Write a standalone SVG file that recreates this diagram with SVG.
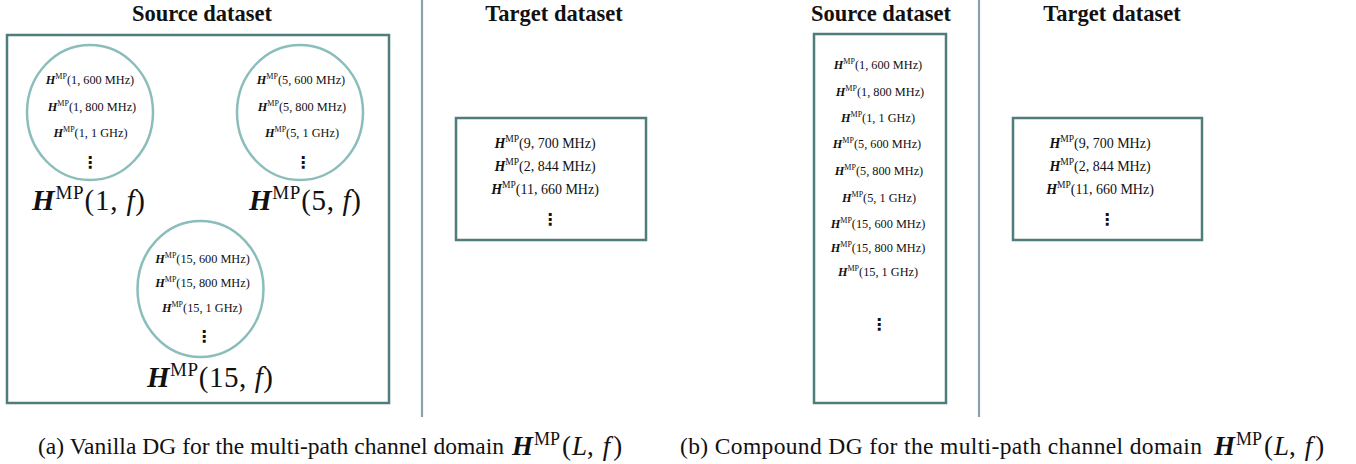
<svg xmlns="http://www.w3.org/2000/svg" width="1356" height="464" viewBox="0 0 1356 464">
<style>
.t{font-family:"Liberation Serif","Times New Roman",serif;fill:#111}
.hb{font-weight:bold;font-style:italic}
.it{font-style:italic}
.title{font-weight:bold;font-size:22.5px;text-anchor:middle}
.s{font-size:12.3px;text-anchor:middle}
.s .sp{font-size:8px}
.m{font-size:14px;text-anchor:middle}
.m .sp{font-size:9.5px}
.L{font-size:29px;text-anchor:middle}
.L .sp{font-size:19px}
.cap{font-size:23.5px}
.capm{font-size:27px}
.capm .sp{font-size:18px}
.dots{font-family:"DejaVu Sans",sans-serif;font-size:16px;font-weight:bold;text-anchor:middle;fill:#111}
.box{fill:#fff;stroke:#4e7d7b;stroke-width:2.5}
.circ{fill:#fff;stroke:#8bbdbb;stroke-width:2.5}
.div{stroke:#8aa0ad;stroke-width:2.2}
</style>
<rect width="1356" height="464" fill="#fff"/>
<g id="dividers">
<line class="div" x1="422" y1="0" x2="422" y2="417"/>
<line class="div" x1="979" y1="0" x2="979" y2="417"/>
</g>
<g id="titles">
<text class="t title" x="202" y="21">Source dataset</text>
<text class="t title" x="554" y="21">Target dataset</text>
<text class="t title" x="881" y="21">Source dataset</text>
<text class="t title" x="1112" y="21">Target dataset</text>
</g>
<g id="source-a">
<rect class="box" x="7" y="35" width="382" height="368"/>
</g>
<g id="set-L1">
<ellipse class="circ" cx="90" cy="112.5" rx="63" ry="67.5"/>
<text class="t s" x="90" y="84"><tspan class="hb">H</tspan><tspan class="sp" dy="-5">MP</tspan><tspan dy="5">(1, 600 MHz)</tspan></text>
<text class="t s" x="92" y="111"><tspan class="hb">H</tspan><tspan class="sp" dy="-5">MP</tspan><tspan dy="5">(1, 800 MHz)</tspan></text>
<text class="t s" x="90.5" y="137"><tspan class="hb">H</tspan><tspan class="sp" dy="-5">MP</tspan><tspan dy="5">(1, 1 GHz)</tspan></text>
<text class="dots" x="90" y="168">⋮</text>
<text class="t L" x="88.5" y="210" textLength="113" lengthAdjust="spacing"><tspan class="hb">H</tspan><tspan class="sp" dy="-11">MP</tspan><tspan dy="11">(1, </tspan><tspan class="it">f</tspan>)</text>
</g>
<g id="set-L5">
<ellipse class="circ" cx="300" cy="112.5" rx="63" ry="67.5"/>
<text class="t s" x="301" y="84"><tspan class="hb">H</tspan><tspan class="sp" dy="-5">MP</tspan><tspan dy="5">(5, 600 MHz)</tspan></text>
<text class="t s" x="302" y="111"><tspan class="hb">H</tspan><tspan class="sp" dy="-5">MP</tspan><tspan dy="5">(5, 800 MHz)</tspan></text>
<text class="t s" x="302" y="137"><tspan class="hb">H</tspan><tspan class="sp" dy="-5">MP</tspan><tspan dy="5">(5, 1 GHz)</tspan></text>
<text class="dots" x="303" y="168">⋮</text>
<text class="t L" x="305" y="210" textLength="112" lengthAdjust="spacing"><tspan class="hb">H</tspan><tspan class="sp" dy="-11">MP</tspan><tspan dy="11">(5, </tspan><tspan class="it">f</tspan>)</text>
</g>
<g id="set-L15">
<ellipse class="circ" cx="200.5" cy="289" rx="63" ry="68"/>
<text class="t s" x="202.5" y="263"><tspan class="hb">H</tspan><tspan class="sp" dy="-5">MP</tspan><tspan dy="5">(15, 600 MHz)</tspan></text>
<text class="t s" x="202.5" y="287"><tspan class="hb">H</tspan><tspan class="sp" dy="-5">MP</tspan><tspan dy="5">(15, 800 MHz)</tspan></text>
<text class="t s" x="202" y="312"><tspan class="hb">H</tspan><tspan class="sp" dy="-5">MP</tspan><tspan dy="5">(15, 1 GHz)</tspan></text>
<text class="dots" x="204" y="342">⋮</text>
<text class="t L" x="210" y="387" textLength="126" lengthAdjust="spacing"><tspan class="hb">H</tspan><tspan class="sp" dy="-11">MP</tspan><tspan dy="11">(15, </tspan><tspan class="it">f</tspan>)</text>
</g>
<g id="target-a">
<rect class="box" x="456" y="118" width="190" height="122"/>
<text class="t m" x="545" y="147.5"><tspan class="hb">H</tspan><tspan class="sp" dy="-6">MP</tspan><tspan dy="6">(9, 700 MHz)</tspan></text>
<text class="t m" x="545" y="170.5"><tspan class="hb">H</tspan><tspan class="sp" dy="-6">MP</tspan><tspan dy="6">(2, 844 MHz)</tspan></text>
<text class="t m" x="545" y="193.5"><tspan class="hb">H</tspan><tspan class="sp" dy="-6">MP</tspan><tspan dy="6">(11, 660 MHz)</tspan></text>
<text class="dots" x="550" y="225">⋮</text>
</g>
<g id="source-b">
<rect class="box" x="814" y="34" width="132" height="369"/>
<text class="t s" x="878" y="69"><tspan class="hb">H</tspan><tspan class="sp" dy="-5">MP</tspan><tspan dy="5">(1, 600 MHz)</tspan></text>
<text class="t s" x="880" y="96"><tspan class="hb">H</tspan><tspan class="sp" dy="-5">MP</tspan><tspan dy="5">(1, 800 MHz)</tspan></text>
<text class="t s" x="878" y="122"><tspan class="hb">H</tspan><tspan class="sp" dy="-5">MP</tspan><tspan dy="5">(1, 1 GHz)</tspan></text>
<text class="t s" x="877" y="148"><tspan class="hb">H</tspan><tspan class="sp" dy="-5">MP</tspan><tspan dy="5">(5, 600 MHz)</tspan></text>
<text class="t s" x="879" y="175"><tspan class="hb">H</tspan><tspan class="sp" dy="-5">MP</tspan><tspan dy="5">(5, 800 MHz)</tspan></text>
<text class="t s" x="879" y="202"><tspan class="hb">H</tspan><tspan class="sp" dy="-5">MP</tspan><tspan dy="5">(5, 1 GHz)</tspan></text>
<text class="t s" x="878" y="228"><tspan class="hb">H</tspan><tspan class="sp" dy="-5">MP</tspan><tspan dy="5">(15, 600 MHz)</tspan></text>
<text class="t s" x="878" y="252"><tspan class="hb">H</tspan><tspan class="sp" dy="-5">MP</tspan><tspan dy="5">(15, 800 MHz)</tspan></text>
<text class="t s" x="878" y="276"><tspan class="hb">H</tspan><tspan class="sp" dy="-5">MP</tspan><tspan dy="5">(15, 1 GHz)</tspan></text>
<text class="dots" x="879" y="330">⋮</text>
</g>
<g id="target-b">
<rect class="box" x="1013" y="118" width="189" height="122"/>
<text class="t m" x="1100" y="147.5"><tspan class="hb">H</tspan><tspan class="sp" dy="-6">MP</tspan><tspan dy="6">(9, 700 MHz)</tspan></text>
<text class="t m" x="1100" y="170.5"><tspan class="hb">H</tspan><tspan class="sp" dy="-6">MP</tspan><tspan dy="6">(2, 844 MHz)</tspan></text>
<text class="t m" x="1100" y="193.5"><tspan class="hb">H</tspan><tspan class="sp" dy="-6">MP</tspan><tspan dy="6">(11, 660 MHz)</tspan></text>
<text class="dots" x="1107" y="225">⋮</text>
</g>
<g id="captions">
<text class="t cap" x="38" y="454" textLength="466" lengthAdjust="spacing">(a) Vanilla DG for the multi-path channel domain</text>
<text class="t capm" x="512" y="455"><tspan class="hb">H</tspan><tspan class="sp" dy="-10" dx="1">MP</tspan><tspan dy="10" dx="2">(</tspan><tspan class="it" dx="1">L</tspan><tspan>,</tspan><tspan class="it" dx="9">f</tspan><tspan dx="3">)</tspan></text>
<text class="t cap" x="680" y="454" textLength="522" lengthAdjust="spacing">(b) Compound DG for the multi-path channel domain</text>
<text class="t capm" x="1214" y="455"><tspan class="hb">H</tspan><tspan class="sp" dy="-10" dx="1">MP</tspan><tspan dy="10" dx="2">(</tspan><tspan class="it" dx="1">L</tspan><tspan>,</tspan><tspan class="it" dx="9">f</tspan><tspan dx="3">)</tspan></text>
</g>
</svg>
